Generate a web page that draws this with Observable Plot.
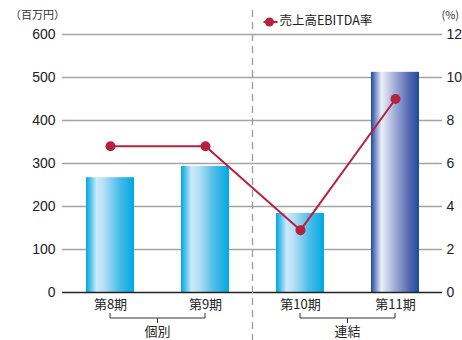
<!DOCTYPE html>
<html><head><meta charset="utf-8">
<script src="https://cdn.jsdelivr.net/npm/d3@7"></script>
<script src="https://cdn.jsdelivr.net/npm/@observablehq/plot@0.6"></script>
<style>
body{margin:0;background:#fff;}
svg{font-family:"Liberation Sans","Noto Sans CJK JP",sans-serif;}
</style></head>
<body><div id="chart"></div>
<script>
const periods = ["第8期", "第9期", "第10期", "第11期"];
const sales = [267, 293, 184, 512];          // 百万円
const ebitdaRate = [6.8, 6.8, 2.9, 9.0];     // %
const leftTicks = [0, 100, 200, 300, 400, 500, 600];
const rightTicks = [0, 2, 4, 6, 8, 10, 12];
const groups = [
  {label: "個別", from: "第8期", to: "第9期"},
  {label: "連結", from: "第10期", to: "第11期"}
];
const legendLabel = "売上高EBITDA率";
const leftUnit = "（百万円）";
const rightUnit = "(%)";

const k = 600 / 12;
const rows = periods.map((p, i) => ({period: p, sales: sales[i], rate: ebitdaRate[i]}));
const lineColor = "#b5213f";
const jp = "'Noto Sans CJK JP',sans-serif";

const chart = Plot.plot({
  width: 462, height: 340,
  marginLeft: 62, marginRight: 20, marginTop: 34, marginBottom: 48,
  style: {fontFamily: "'Liberation Sans','Noto Sans CJK JP',sans-serif", background: "#fff"},
  x: {domain: periods, paddingInner: 0.5, paddingOuter: 0.25, label: null},
  y: {domain: [0, 600], label: null},
  marks: [
    Plot.ruleY(leftTicks.slice(1), {stroke: "#a3a3a3", strokeWidth: 1.4}),
    Plot.axisY(leftTicks, {anchor: "left", tickSize: 0, tickPadding: 7, fontSize: 14, fill: "#222", label: null}),
    Plot.axisY(rightTicks.map(d => d * k), {anchor: "right", tickSize: 0, tickPadding: 4, fontSize: 14, fill: "#222", tickFormat: d => d / k, label: null}),
    Plot.axisX({tickSize: 0, tickPadding: 7, fontSize: 13, fill: "#222", fontFamily: jp, label: null}),
    Plot.rectY(rows, {filter: (d, i) => i < 3, x: "period", y: "sales", fill: "url(#gCyan)"}),
    Plot.rectY(rows, {filter: (d, i) => i === 3, x: "period", y: "sales", fill: "url(#gBlue)"}),
    Plot.ruleY([0], {stroke: "#222", strokeWidth: 1.5}),
    Plot.line(rows, {x: "period", y: d => d.rate * k, stroke: lineColor, strokeWidth: 2}),
    Plot.dot(rows, {x: "period", y: d => d.rate * k, r: 5, fill: lineColor})
  ]
});

const svg = d3.select(chart);
const defs = svg.insert("defs", ":first-child");
function grad(id, stops) {
  const g = defs.append("linearGradient").attr("id", id).attr("x1", "0").attr("x2", "1").attr("y1", "0").attr("y2", "0");
  stops.forEach(([o, c]) => g.append("stop").attr("offset", o).attr("stop-color", c));
}
grad("gCyan", [[0, "#00a7e0"], [0.08, "#45bdeb"], [0.22, "#cdeafa"], [0.38, "#b3def5"], [0.68, "#4fbde9"], [1, "#00a8e1"]]);
grad("gBlue", [[0, "#1a4a9c"], [0.1, "#7f94cc"], [0.22, "#eceff8"], [0.5, "#a0abd6"], [0.8, "#5168b0"], [1, "#1e4b9d"]]);

const xs = chart.scale("x");
const bw = xs.bandwidth;
const cx = p => xs.apply(p) + bw / 2;
const yScale = chart.scale("y");
const y0 = yScale.apply(0);

// dashed separator between groups
const sepX = (cx("第9期") + cx("第10期")) / 2;
svg.append("line").attr("x1", sepX).attr("x2", sepX).attr("y1", 10).attr("y2", 340)
  .attr("stroke", "#9a9a9a").attr("stroke-width", 1.3).attr("stroke-dasharray", "7,5");

// brackets
groups.forEach(g => {
  const a = cx(g.from), b = cx(g.to), m = (a + b) / 2;
  const yb = y0 + 26;
  svg.append("path").attr("d", `M${a},${yb - 5}V${yb}H${b}V${yb - 5}M${m},${yb}V${yb + 5}`)
    .attr("fill", "none").attr("stroke", "#333").attr("stroke-width", 1);
  svg.append("text").attr("x", m).attr("y", y0 + 40).attr("text-anchor", "middle")
    .attr("dominant-baseline", "middle").attr("font-size", 13).attr("font-family", jp).attr("fill", "#222").text(g.label);
});

// units
svg.append("text").attr("x", 10).attr("y", 16).attr("text-anchor", "start").attr("font-size", 11).attr("font-family", jp).attr("fill", "#333").attr("dominant-baseline", "middle").text(leftUnit);
svg.append("text").attr("x", 459).attr("y", 16).attr("text-anchor", "end").attr("font-size", 11).attr("font-family", jp).attr("fill", "#333").attr("dominant-baseline", "middle").text(rightUnit);

// legend
const lx = sepX + 11, ly = 22;
svg.append("line").attr("x1", lx).attr("x2", lx + 14).attr("y1", ly).attr("y2", ly).attr("stroke", lineColor).attr("stroke-width", 2);
svg.append("circle").attr("cx", lx + 6).attr("cy", ly).attr("r", 4.5).attr("fill", lineColor);
svg.append("text").attr("x", lx + 16).attr("y", ly).attr("text-anchor", "start").attr("dominant-baseline", "middle").attr("font-size", 12.5).attr("font-family", jp).attr("fill", "#222").text(legendLabel);

document.getElementById("chart").appendChild(chart);
</script></body></html>
